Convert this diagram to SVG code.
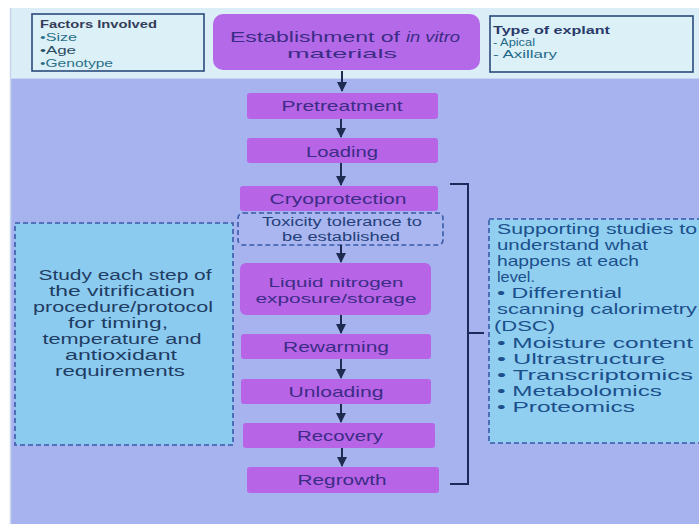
<svg xmlns="http://www.w3.org/2000/svg" width="699" height="524" viewBox="0 0 699 524">
<defs>
<style>
text{font-family:"Liberation Sans",Arial,sans-serif;}
.step{fill:#b764e6;}
.lbl{font-size:15px;fill:#3c2c86;text-anchor:middle;}
.lbl2{font-size:13.5px;fill:#3c2c86;text-anchor:middle;}
.note{font-size:11px;}
.lt{font-size:14px;fill:#1f3d63;text-anchor:middle;}
.rt{font-size:14.5px;fill:#1c4f8c;}
.arr{stroke:#1f2b50;stroke-width:2;fill:none;marker-end:url(#ah);}
.brk{stroke:#1a2a5a;stroke-width:2;fill:none;}
.dash{stroke:#3a5aa8;stroke-width:1.6;stroke-dasharray:5 3;}
</style>
<marker id="ah" viewBox="0 0 10 10" refX="9" refY="5" markerWidth="5" markerHeight="5" orient="auto" markerUnits="strokeWidth">
<path d="M0,0 L10,5 L0,10 z" fill="#1f2b50"/>
</marker>
</defs>
<rect x="0" y="0" width="699" height="524" fill="#ffffff"/>
<rect x="10" y="8" width="689" height="70" fill="#dbedf7"/>
<rect x="10" y="78" width="689" height="446" fill="#a6b3ef"/>
<line x1="10.5" y1="8" x2="10.5" y2="524" stroke="#c8d8ec" stroke-width="1.5"/>
<line x1="10" y1="78.5" x2="699" y2="78.5" stroke="#c6d6f2" stroke-width="1"/>

<g id="factors">
<rect x="32" y="14" width="172" height="57" fill="#dcf0f8" stroke="#2a4a7a" stroke-width="1.6"/>
<text class="note" x="40" y="28" fill="#333c58" font-weight="bold" textLength="117" lengthAdjust="spacingAndGlyphs">Factors Involved</text>
<text class="note" x="40" y="41" fill="#2b7088" textLength="37" lengthAdjust="spacingAndGlyphs">•Size</text>
<text class="note" x="40" y="54" fill="#2a4c60" textLength="36" lengthAdjust="spacingAndGlyphs">•Age</text>
<text class="note" x="40" y="67" fill="#2b7088" textLength="73" lengthAdjust="spacingAndGlyphs">•Genotype</text>
</g>

<g id="establishment">
<rect x="213" y="14" width="267" height="56" rx="10" fill="#b46ae8"/>
<text x="230" y="42" font-size="14" fill="#3c2c86" textLength="170" lengthAdjust="spacingAndGlyphs">Establishment of</text>
<text x="406" y="42" font-size="14" fill="#3c2c86" font-style="italic" textLength="54" lengthAdjust="spacingAndGlyphs">in vitro</text>
<text class="lbl2" x="342" y="58" textLength="110" lengthAdjust="spacingAndGlyphs">materials</text>
</g>

<g id="explant">
<rect x="490" y="16" width="203" height="56" fill="#dcf0f8" stroke="#2a4a7a" stroke-width="1.6"/>
<text class="note" x="493" y="34" fill="#2a3a6a" font-weight="bold" textLength="117" lengthAdjust="spacingAndGlyphs">Type of explant</text>
<text class="note" x="493" y="46" fill="#1f6a8a" textLength="42" lengthAdjust="spacingAndGlyphs">- Apical</text>
<text class="note" x="493" y="58" fill="#1f6a8a" textLength="64" lengthAdjust="spacingAndGlyphs">- Axillary</text>
</g>

<g id="pretreatment">
<rect class="step" x="247" y="93" width="191" height="26" rx="3"/>
<text class="lbl" x="342" y="111" textLength="121" lengthAdjust="spacingAndGlyphs">Pretreatment</text>
</g>
<g id="loading">
<rect class="step" x="247" y="138" width="191" height="25" rx="3"/>
<text class="lbl" x="342" y="157" textLength="72" lengthAdjust="spacingAndGlyphs">Loading</text>
</g>
<g id="cryoprotection">
<rect class="step" x="240" y="186" width="198" height="25" rx="3"/>
<text class="lbl" x="338" y="204" textLength="137" lengthAdjust="spacingAndGlyphs">Cryoprotection</text>
</g>
<g id="toxicity">
<rect x="238" y="213" width="205" height="32" rx="5" fill="#aab6f0" class="dash"/>
<text x="342" y="226" font-size="12.5" fill="#24407a" text-anchor="middle" textLength="160" lengthAdjust="spacingAndGlyphs">Toxicity tolerance to</text>
<text x="341" y="241" font-size="12.5" fill="#24407a" text-anchor="middle" textLength="118" lengthAdjust="spacingAndGlyphs">be established</text>
</g>
<g id="liquid-nitrogen">
<rect class="step" x="240" y="263" width="191" height="52" rx="6"/>
<text class="lbl2" x="336" y="287" textLength="135" lengthAdjust="spacingAndGlyphs">Liquid nitrogen</text>
<text class="lbl2" x="336" y="303" textLength="161" lengthAdjust="spacingAndGlyphs">exposure/storage</text>
</g>
<g id="rewarming">
<rect class="step" x="241" y="334" width="190" height="25" rx="3"/>
<text class="lbl" x="336" y="352" textLength="106" lengthAdjust="spacingAndGlyphs">Rewarming</text>
</g>
<g id="unloading">
<rect class="step" x="241" y="379" width="190" height="25" rx="3"/>
<text class="lbl" x="336" y="397" textLength="95" lengthAdjust="spacingAndGlyphs">Unloading</text>
</g>
<g id="recovery">
<rect class="step" x="243" y="423" width="192" height="25" rx="3"/>
<text class="lbl" x="340" y="441" textLength="86" lengthAdjust="spacingAndGlyphs">Recovery</text>
</g>
<g id="regrowth">
<rect class="step" x="247" y="467" width="192" height="26" rx="3"/>
<text class="lbl" x="342" y="485" textLength="89" lengthAdjust="spacingAndGlyphs">Regrowth</text>
</g>

<g id="study-note">
<rect x="15" y="223" width="218" height="222" fill="#8ccbf0" class="dash"/>
<text class="lt" x="125" y="280" textLength="173" lengthAdjust="spacingAndGlyphs">Study each step of</text>
<text class="lt" x="122" y="296" textLength="146" lengthAdjust="spacingAndGlyphs">the vitrification</text>
<text class="lt" x="123" y="312" textLength="180" lengthAdjust="spacingAndGlyphs">procedure/protocol</text>
<text class="lt" x="118" y="328" textLength="100" lengthAdjust="spacingAndGlyphs">for timing,</text>
<text class="lt" x="122" y="344" textLength="159" lengthAdjust="spacingAndGlyphs">temperature and</text>
<text class="lt" x="121" y="360" textLength="112" lengthAdjust="spacingAndGlyphs">antioxidant</text>
<text class="lt" x="120" y="376" textLength="130" lengthAdjust="spacingAndGlyphs">requirements</text>
</g>

<g id="supporting-note">
<rect x="489" y="219" width="215" height="224" fill="#90cff0" class="dash"/>
<text class="rt" x="497" y="234" textLength="200" lengthAdjust="spacingAndGlyphs">Supporting studies to</text>
<text class="rt" x="497" y="250" textLength="151" lengthAdjust="spacingAndGlyphs">understand what</text>
<text class="rt" x="497" y="266" textLength="142" lengthAdjust="spacingAndGlyphs">happens at each</text>
<text class="rt" x="497" y="282" textLength="38" lengthAdjust="spacingAndGlyphs">level.</text>
<text class="rt" x="497" y="298" textLength="125" lengthAdjust="spacingAndGlyphs">• Differential</text>
<text class="rt" x="497" y="314" textLength="200" lengthAdjust="spacingAndGlyphs">scanning calorimetry</text>
<text class="rt" x="494" y="331" textLength="61" lengthAdjust="spacingAndGlyphs">(DSC)</text>
<text class="rt" x="497" y="348" textLength="196" lengthAdjust="spacingAndGlyphs">• Moisture content</text>
<text class="rt" x="497" y="364" textLength="168" lengthAdjust="spacingAndGlyphs">• Ultrastructure</text>
<text class="rt" x="497" y="380" textLength="196" lengthAdjust="spacingAndGlyphs">• Transcriptomics</text>
<text class="rt" x="497" y="396" textLength="165" lengthAdjust="spacingAndGlyphs">• Metabolomics</text>
<text class="rt" x="497" y="412" textLength="138" lengthAdjust="spacingAndGlyphs">• Proteomics</text>
</g>

<g id="connectors">
<line class="arr" x1="342" y1="71" x2="342" y2="91"/>
<line class="arr" x1="341" y1="119" x2="341" y2="137"/>
<line class="arr" x1="341" y1="163" x2="341" y2="185"/>
<line class="arr" x1="341" y1="245" x2="341" y2="262"/>
<line class="arr" x1="341" y1="315" x2="341" y2="333"/>
<line class="arr" x1="341" y1="359" x2="341" y2="378"/>
<line class="arr" x1="341" y1="404" x2="341" y2="422"/>
<line class="arr" x1="342" y1="448" x2="342" y2="466"/>
<path class="brk" d="M450,184 H468 V484 H450"/>
<line class="brk" x1="468" y1="333" x2="484" y2="333"/>
</g>
</svg>
